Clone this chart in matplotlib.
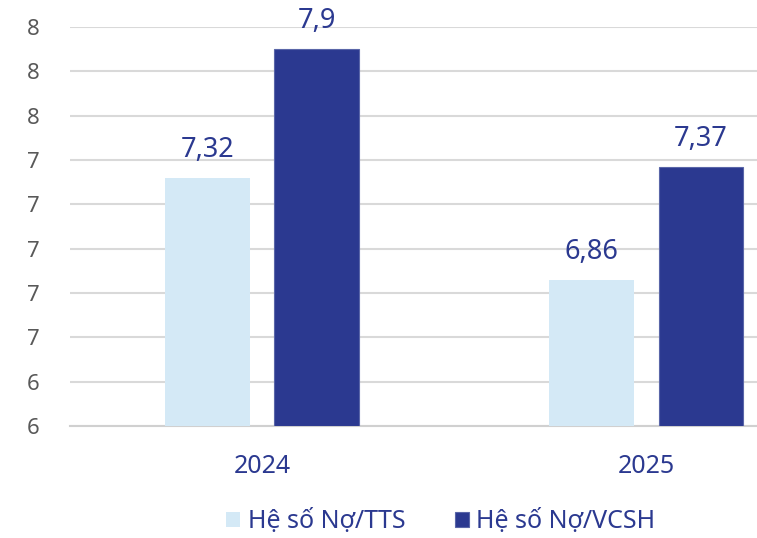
import matplotlib
matplotlib.use("Agg")
from matplotlib import pyplot as plt
import numpy as np

years = ["2024", "2025"]
no_tts = [7.32, 6.86]
no_vcsh = [7.9, 7.37]
labels_tts = ["7,32", "6,86"]
labels_vcsh = ["7,9", "7,37"]
y_ticks = [6.2, 6.4, 6.6, 6.8, 7.0, 7.2, 7.4, 7.6, 7.8, 8.0]

navy = "#2b3990"
light = "#d4e9f6"
grey = "#595959"

plt.rcParams["font.family"] = ["Noto Sans", "DejaVu Sans"]

fig = plt.figure(figsize=(7.57, 5.38), dpi=100)
ax = fig.add_axes([70 / 757, 112 / 538, 687 / 757, 399 / 538])

x = np.arange(len(years))
w = 0.221
off = 0.143
b1 = ax.bar(x - off, [v - 6.2 for v in no_tts], w, bottom=6.2, color=light, label="Hệ số Nợ/TTS", zorder=3)
b2 = ax.bar(x + off, [v - 6.2 for v in no_vcsh], w, bottom=6.2, color=navy, edgecolor="#5a66a8",
            linewidth=0.8, label="Hệ số Nợ/VCSH", zorder=3)

for xi, v, t in zip(x - off, no_tts, labels_tts):
    ax.annotate(t, (xi, v), xytext=(0, 10), textcoords="offset points", ha="center", va="bottom",
                fontsize=19.5, color=navy)
for xi, v, t in zip(x + off, no_vcsh, labels_vcsh):
    ax.annotate(t, (xi, v), xytext=(0, 10), textcoords="offset points", ha="center", va="bottom",
                fontsize=19.5, color=navy)

ax.set_xlim(-0.5, 1.289)
ax.set_ylim(6.2, 8.0)
ax.set_yticks(y_ticks)
ax.set_yticklabels([f"{v:.0f}" for v in y_ticks])
ax.set_xticks(x)
ax.set_xticklabels(years)
ax.tick_params(axis="y", length=0, pad=22, labelsize=16, labelcolor=grey)
ax.tick_params(axis="x", length=0, pad=20, labelsize=18, labelcolor=navy)
ax.grid(axis="y", color="#d9d9d9", linewidth=1.5, zorder=0)
for s in ["top", "right", "left"]:
    ax.spines[s].set_visible(False)
ax.spines["bottom"].set_color("#d0d0d0")
ax.spines["bottom"].set_linewidth(1.5)

fig.legend(handles=[b1, b2], loc="center", bbox_to_anchor=(441 / 757, 1 - 522 / 538), ncol=2,
           frameon=False, fontsize=18, labelcolor=navy, handlelength=0.55, handleheight=0.55,
           handletextpad=0.3, columnspacing=2.0)

fig.savefig("out.png", dpi=100)
